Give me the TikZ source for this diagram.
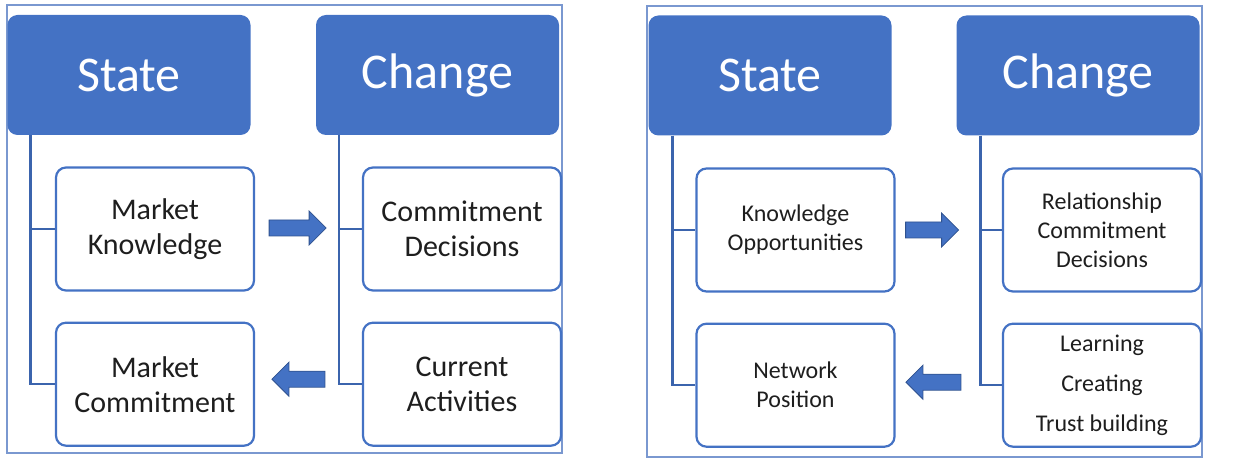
\documentclass[tikz,border=0pt]{standalone}
\usepackage{fontspec}
\setmainfont{Carlito}
\usetikzlibrary{positioning}
\definecolor{hdrblue}{HTML}{4472C4}
\definecolor{lineblue}{HTML}{3B64AD}
\definecolor{frameblue}{HTML}{7A98D0}
\definecolor{arrowedge}{HTML}{2F528F}
\definecolor{txtgray}{HTML}{1E1E1E}
\tikzset{
  header/.style={rectangle, rounded corners=10pt, fill=hdrblue, text=white,
                 minimum width=243pt, minimum height=120pt, inner sep=0pt,
                 font=\fontsize{50}{60}\selectfont},
  item/.style={rectangle, rounded corners=10pt, draw=hdrblue, line width=2.2pt,
               fill=white, text=txtgray, text centered, minimum width=198pt,
               minimum height=123pt, inner sep=0pt, align=center,
               font=\fontsize{30}{35}\selectfont},
  smallitem/.style={item, font=\fontsize{24}{29}\selectfont},
  tree/.style={draw=lineblue, line width=2.5pt},
  panel/.style={draw=frameblue, line width=1.4pt},
  bigarrow/.style={fill=hdrblue, draw=arrowedge, line width=0.8pt, line join=miter},
  pics/fatarrow/.style={code={
    \draw[bigarrow] (0,-8) -- (#1-17,-8) -- (#1-17,-17) -- (#1,0)
      -- (#1-17,17) -- (#1-17,8) -- (0,8) -- cycle;
  }},
}
\begin{document}
\begin{tikzpicture}[x=1pt, y=-1pt]
  \useasboundingbox (0,0) rectangle (1240,462);

  % left panel
  \draw[panel] (7,5) rectangle (562,453);
  \node[header] (stateL)  at (129,75)   {State};
  \node[header] (changeL) at (437.5,75) {Change};
  \node[item] (mknow) at (155,229) {Market\\Knowledge};
  \node[item, below=30pt of mknow] (mcom) {Market\\Commitment};
  \node[item] (cdec) at (462,229) {Commitment\\Decisions};
  \node[item, below=30pt of cdec] (cact) {Current\\Activities};

  \foreach \h/\b in {stateL/mknow, stateL/mcom, changeL/cdec, changeL/cact}
    \draw[tree] ([xshift=23pt]\h.south west) |- (\b.west);

  \pic at ([xshift=14pt, yshift=1pt]mknow.east) {fatarrow=57};
  \pic[rotate=180] at ([xshift=-37pt, yshift=5pt]cact.west) {fatarrow=53};

  % right panel
  \draw[panel] (647,6) rectangle (1202,457);
  \node[header] (stateR)  at (770,75.5)  {State};
  \node[header] (changeR) at (1078,75.5) {Change};
  \node[smallitem] (kopp) at (795.5,230) {Knowledge\\Opportunities};
  \node[smallitem, below=30pt of kopp] (npos) {Network\\Position};
  \node[smallitem] (rcd) at (1102,230) {Relationship\\Commitment\\Decisions};
  \node[smallitem, below=30pt of rcd, font=\fontsize{24}{40}\selectfont] (lct)
    {Learning\\Creating\\Trust building};

  \foreach \h/\b in {stateR/kopp, stateR/npos, changeR/rcd, changeR/lct}
    \draw[tree] ([xshift=24pt]\h.south west) |- (\b.west);

  \pic at ([xshift=10pt]kopp.east) {fatarrow=53};
  \pic[rotate=180] at ([xshift=-41pt, yshift=3pt]lct.west) {fatarrow=55};
\end{tikzpicture}
\end{document}
